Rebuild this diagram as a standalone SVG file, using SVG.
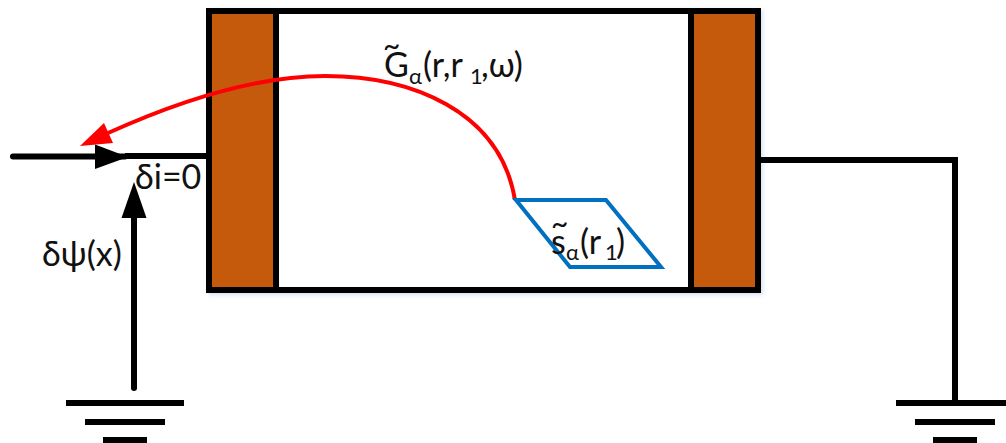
<svg xmlns="http://www.w3.org/2000/svg" width="1006" height="443" viewBox="0 0 1006 443">
<style>
.w{fill:none;stroke:#000;stroke-width:6}
.t{font-family:"Lato","Open Sans","Noto Sans",sans-serif;font-size:34px;fill:#111}
.s{font-size:22px}
.g{fill:#000;stroke:none}
.e{fill:#C55A11;stroke:#000;stroke-width:6}
</style>
<defs>
<filter id="sh" x="-5%" y="-5%" width="110%" height="110%"><feDropShadow dx="2" dy="2" stdDeviation="2" flood-color="#5b8bd0" flood-opacity="0.25"/></filter>
<g id="ground">
<rect class="g" x="0" y="400" width="118" height="6"/>
<rect class="g" x="19" y="419" width="80" height="6"/>
<rect class="g" x="37" y="437" width="44" height="6"/>
</g>
</defs>
<g id="device" filter="url(#sh)">
<rect x="209" y="11" width="549" height="279" fill="#fff" stroke="#000" stroke-width="6"/>
<rect class="e" x="209" y="11" width="67" height="279"/>
<rect class="e" x="691" y="11" width="67" height="279"/>
</g>
<g id="connectors">
<path class="w" d="M13,156.500H125" stroke-linecap="round"/>
<path class="w" d="M125,156H207" stroke-width="5"/>
<path class="g" d="M95,144.500L128,157L95,169Z"/>
<path class="w" d="M134,388V215" stroke-linecap="round"/>
<path class="g" d="M134,182L146.500,218H121.500Z"/>
<path class="w" d="M761,160H955V403"/>
<path d="M515,200C500,110 410,76 325,76C250,76 170,105 108,133" fill="none" stroke="#f00" stroke-width="4"/>
<path d="M80,146L104,123L113,143Z" fill="#f00"/>
</g>
<g id="ground-left"><use href="#ground" x="66"/></g>
<g id="ground-right"><use href="#ground" x="896"/></g>
<g id="source">
<path d="M516,200H606L661,267H570Z" fill="none" stroke="#0070C0" stroke-width="4"/>
</g>
<g id="labels">
<text class="t" x="135" y="189">δi=0</text>
<text class="t" x="42" y="266">δψ(x)</text>
<text class="t" x="384" y="77">G</text>
<text class="t" x="383" y="56" style="font-size:30px">~</text>
<text class="t s" x="409" y="84">α</text>
<text class="t" x="423" y="77">(r,r</text>
<text class="t s" x="470" y="84">1</text>
<text class="t" x="481" y="77">,ω)</text>
<text class="t" x="551" y="254">s</text>
<text class="t" x="551" y="234" style="font-size:30px">~</text>
<text class="t s" x="566" y="260">α</text>
<text class="t" x="580" y="254">(r</text>
<text class="t s" x="605" y="260">1</text>
<text class="t" x="616" y="254">)</text>
</g>
</svg>
